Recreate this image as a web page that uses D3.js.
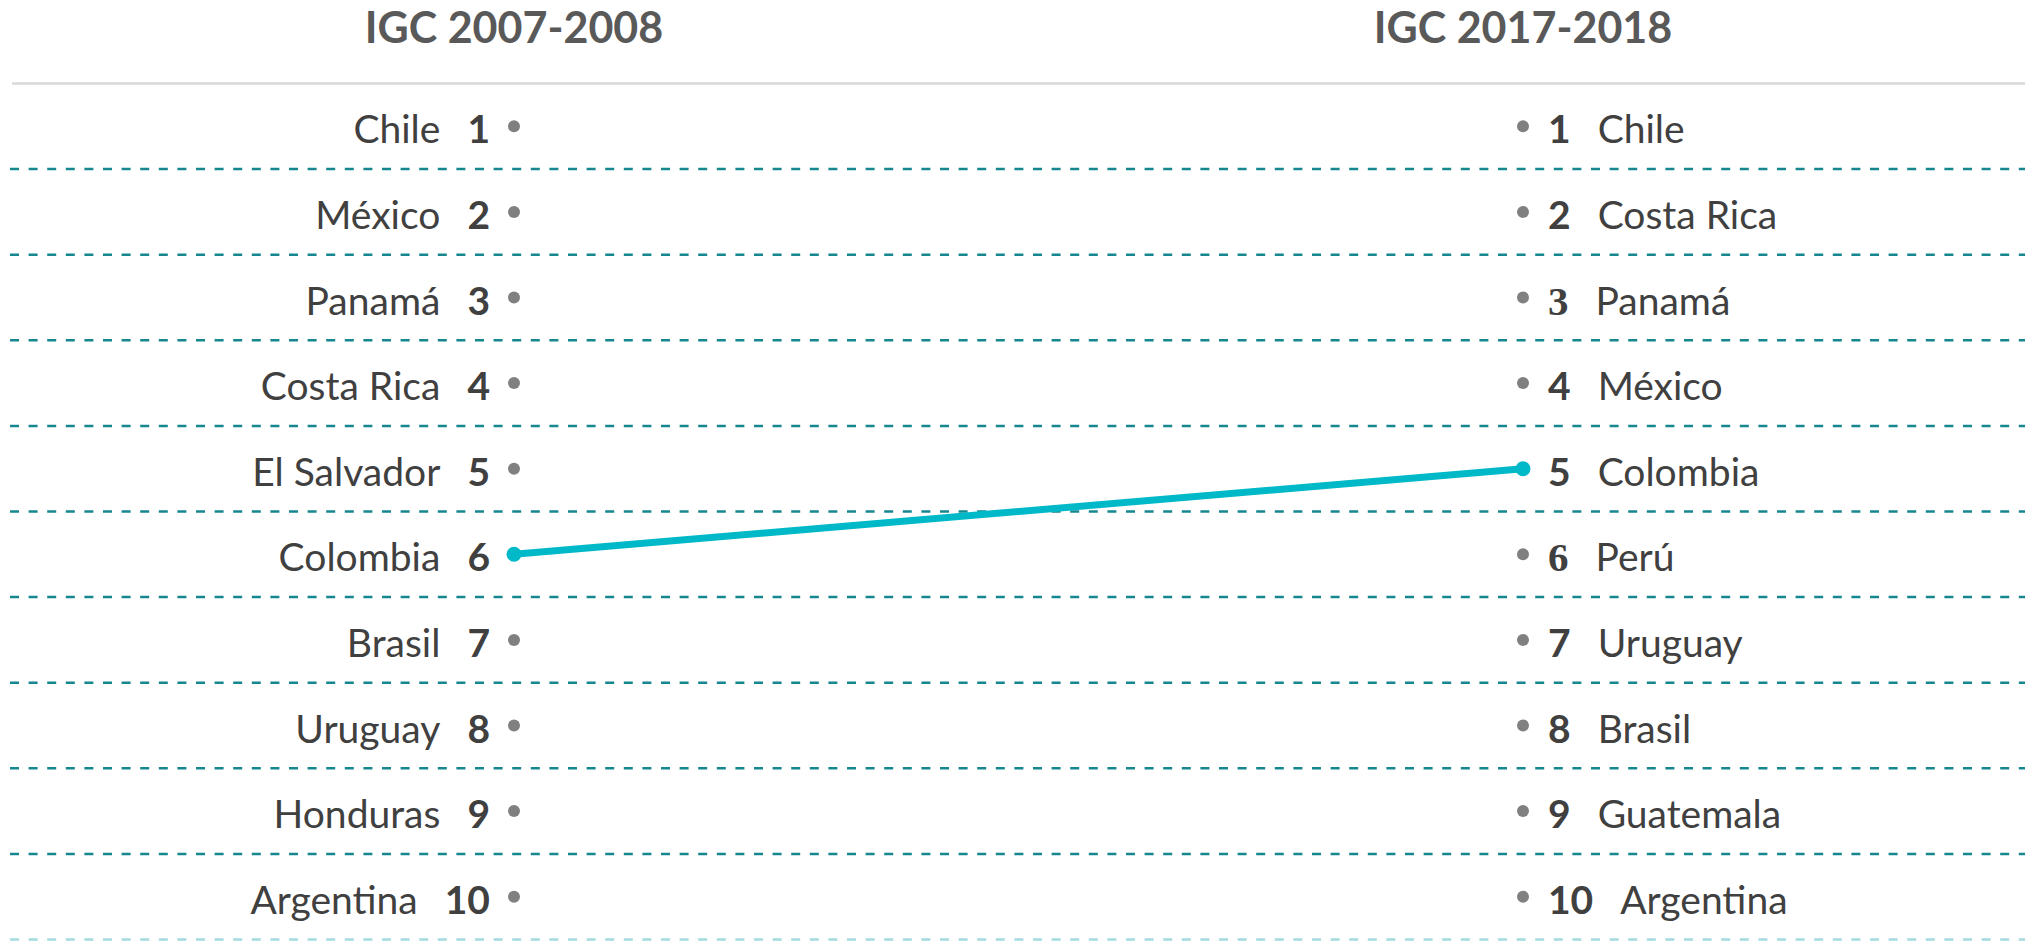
<!DOCTYPE html>
<html>
<head>
<meta charset="utf-8">
<script src="https://cdn.jsdelivr.net/npm/d3@7/dist/d3.min.js"></script>
<style>
  body { margin: 0; background: #fff; }
  text { font-family: Lato, "Noto Sans", sans-serif; }
</style>
</head>
<body>
<script>
// Data
var periods = ["IGC 2007-2008", "IGC 2017-2018"];
var ranks = [1, 2, 3, 4, 5, 6, 7, 8, 9, 10];
var countries2008 = ["Chile", "México", "Panamá", "Costa Rica", "El Salvador",
                     "Colombia", "Brasil", "Uruguay", "Honduras", "Argentina"];
var countries2018 = ["Chile", "Costa Rica", "Panamá", "México", "Colombia",
                     "Perú", "Uruguay", "Brasil", "Guatemala", "Argentina"];
var highlight = "Colombia";

// a few rank numbers on the right side were typeset in a serif face
var serifRanksRight = [3, 6];

var width = 2025,
    height = 943;

var svg = d3.select("body").append("svg")
    .attr("width", width)
    .attr("height", height);

// x: the two columns of dots
var x = d3.scalePoint()
    .domain(periods)
    .range([514, 1523]);

// y: one band per rank
var y = d3.scaleBand()
    .domain(ranks)
    .range([83.5, 939.5]);

function cy(r) { return y(r) + y.bandwidth() / 2; }

// Headers
svg.selectAll("text.header")
  .data(periods)
  .enter().append("text")
    .attr("class", "header")
    .attr("x", function(d) { return x(d); })
    .attr("y", 43)
    .attr("text-anchor", "middle")
    .attr("font-weight", "bold")
    .attr("font-size", 43)
    .attr("fill", "#595959")
    .text(function(d) { return d; });

// top rule
svg.append("line")
    .attr("x1", 12).attr("x2", width)
    .attr("y1", y(ranks[0])).attr("y2", y(ranks[0]))
    .attr("stroke", "#d9d9d9")
    .attr("stroke-width", 2.5);

// dashed separators
svg.selectAll("line.sep")
  .data(ranks)
  .enter().append("line")
    .attr("class", "sep")
    .attr("x1", 10).attr("x2", width)
    .attr("y1", function(d) { return y(d) + y.bandwidth(); })
    .attr("y2", function(d) { return y(d) + y.bandwidth(); })
    .attr("stroke", function(d, i) { return i === ranks.length - 1 ? "#a3dbe0" : "#17878f"; })
    .attr("stroke-width", 2.5)
    .attr("stroke-dasharray", "9,9.6");

// Left labels: "Name  N"
var left = svg.selectAll("text.left")
  .data(ranks)
  .enter().append("text")
    .attr("class", "left")
    .attr("x", x(periods[0]) - 24)
    .attr("y", function(d) { return cy(d) + 17; })
    .attr("text-anchor", "end")
    .attr("font-size", 39)
    .attr("fill", "#404040");
left.append("tspan")
    .text(function(d, i) { return countries2008[i]; });
left.append("tspan")
    .attr("dx", 27)
    .attr("font-weight", "bold")
    .text(function(d) { return d; });

// Right labels: "N  Name"
var right = svg.selectAll("text.right")
  .data(ranks)
  .enter().append("text")
    .attr("class", "right")
    .attr("x", x(periods[1]) + 25)
    .attr("y", function(d) { return cy(d) + 17; })
    .attr("font-size", 39)
    .attr("fill", "#404040");
right.append("tspan")
    .attr("font-weight", "bold")
    .attr("font-family", function(d) {
      return serifRanksRight.indexOf(d) >= 0 ? "'Liberation Serif', serif" : null;
    })
    .attr("font-size", function(d) { return serifRanksRight.indexOf(d) >= 0 ? 41 : null; })
    .text(function(d) { return d; });
right.append("tspan")
    .attr("dx", 27)
    .text(function(d, i) { return countries2018[i]; });

// gray dots
[countries2008, countries2018].forEach(function(list, k) {
  svg.selectAll("circle.dot" + k)
    .data(ranks.filter(function(r, i) { return list[i] !== highlight; }))
    .enter().append("circle")
      .attr("class", "dot" + k)
      .attr("cx", x(periods[k]))
      .attr("cy", function(d) { return cy(d); })
      .attr("r", 6)
      .attr("fill", "#808080");
});

// highlighted move
var hl = [
  { period: periods[0], rank: ranks[countries2008.indexOf(highlight)] },
  { period: periods[1], rank: ranks[countries2018.indexOf(highlight)] }
];

var line = d3.line()
    .x(function(d) { return x(d.period); })
    .y(function(d) { return cy(d.rank); });

svg.append("path")
    .datum(hl)
    .attr("d", line)
    .attr("fill", "none")
    .attr("stroke", "#00b9c8")
    .attr("stroke-width", 7);

svg.selectAll("circle.hl")
  .data(hl)
  .enter().append("circle")
    .attr("class", "hl")
    .attr("cx", function(d) { return x(d.period); })
    .attr("cy", function(d) { return cy(d.rank); })
    .attr("r", 7.5)
    .attr("fill", "#00b9c8");
</script>
</body>
</html>
